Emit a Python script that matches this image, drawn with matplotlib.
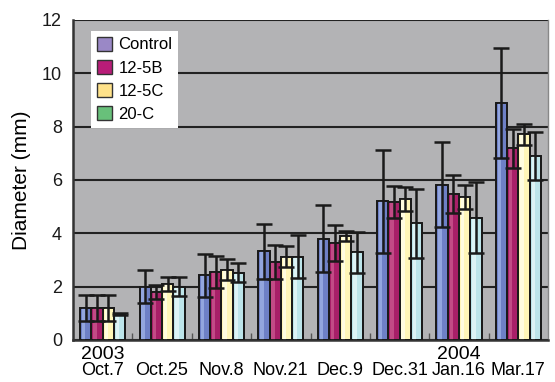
import matplotlib
matplotlib.use("Agg")
import matplotlib.pyplot as plt
from matplotlib.patches import Patch
import numpy as np

plt.rcParams['font.family'] = ['Liberation Sans', 'DejaVu Sans']

dates = ["Oct.7", "Oct.25", "Nov.8", "Nov.21", "Dec.9", "Dec.31", "Jan.16", "Mar.17"]
series = ["Control", "12-5B", "12-5C", "20-C"]

control = [1.2, 2.0, 2.42, 3.33, 3.8, 5.2, 5.83, 8.9]
b125 = [1.2, 1.8, 2.54, 2.93, 3.65, 5.18, 5.48, 7.19]
c125 = [1.2, 2.1, 2.64, 3.12, 3.9, 5.29, 5.38, 7.71]
c20 = [0.98, 2.0, 2.52, 3.12, 3.29, 4.38, 4.59, 6.9]

control_err = [0.47, 0.63, 0.82, 1.03, 1.26, 1.94, 1.6, 2.06]
b125_err = [0.47, 0.28, 0.6, 0.64, 0.68, 0.6, 0.72, 0.74]
c125_err = [0.47, 0.25, 0.38, 0.4, 0.2, 0.44, 0.45, 0.4]
c20_err = [0.03, 0.36, 0.35, 0.8, 0.76, 1.3, 1.33, 0.89]

values = [control, b125, c125, c20]
errors = [control_err, b125_err, c125_err, c20_err]
bar_colors = ["#6E80C6", "#A81F68", "#FFF6B8", "#BDE5EA"]
stripe_colors = ["#93A6DE", "#C24B86", "#FFFCE0", "#DDF3F5"]
legend_colors = ["#9A88C6", "#B81C78", "#FFE28A", "#68C07A"]

fig = plt.figure(figsize=(5.55, 3.82), dpi=100)
ax = fig.add_axes([73/555, 42/382, 475/555, 320/382])
ax.set_facecolor("#B3B3B5")

x = np.arange(len(dates))
w = 0.19
for i, (vals, errs) in enumerate(zip(values, errors)):
    pos = x + (i - 1.5) * w
    ax.bar(pos, vals, width=w, color=bar_colors[i], edgecolor="#1a1a1a",
           linewidth=1.3, zorder=3)
    ax.bar(pos - w * 0.18, vals, width=w * 0.3, color=stripe_colors[i],
           edgecolor="none", linewidth=0, zorder=3.5)
    ax.bar(pos, vals, width=w, color="none", edgecolor="#1a1a1a",
           linewidth=1.3, zorder=3.6)
    ax.errorbar(pos, vals, yerr=errs, fmt="none", ecolor="#1a1a1a",
                elinewidth=1.8, capsize=6, capthick=1.8, zorder=4)

ax.set_xlim(-0.5, len(dates) - 0.5)
ax.set_ylim(0, 12)
ax.set_yticks(range(0, 13, 2))
ax.yaxis.grid(True, color="#222222", linewidth=1.5, zorder=1)
ax.set_axisbelow(True)
ax.tick_params(axis="y", length=0, labelsize=13, pad=8, colors="#1a1a1a")
ax.set_xticks(x)
ax.set_xticklabels(dates, fontsize=13)
ax.tick_params(axis="x", length=0, pad=16)
ax.set_xticks(np.arange(0.5, len(dates) - 0.5, 1), minor=True)
ax.tick_params(axis="x", which="minor", direction="in", length=5,
               color="#555555", width=1)

for s in ["left", "bottom"]:
    ax.spines[s].set_color("#333333")
    ax.spines[s].set_linewidth(1.8)
ax.spines["top"].set_visible(False)
ax.spines["right"].set_color("#888888")
ax.spines["right"].set_linewidth(1.0)

ax.set_ylabel("Diameter (mm)", fontsize=15, labelpad=8)

ax.text(0, -0.02, "2003", transform=ax.get_xaxis_transform(),
        ha="center", va="top", fontsize=14)
ax.text(6, -0.02, "2004", transform=ax.get_xaxis_transform(),
        ha="center", va="top", fontsize=14)

handles = [Patch(facecolor=c, edgecolor="#333333", linewidth=1.0) for c in legend_colors]
leg = ax.legend(handles, series, loc="upper left", bbox_to_anchor=(0.038, 0.966),
                borderaxespad=0, frameon=True, fancybox=False, fontsize=12,
                handlelength=0.9, handleheight=0.9, handletextpad=0.4,
                labelspacing=0.45, borderpad=0.35)
leg.get_frame().set_facecolor("white")
leg.get_frame().set_edgecolor("none")
leg.get_frame().set_alpha(1)
leg.set_zorder(10)

fig.savefig("out.png", dpi=100, facecolor="white")
